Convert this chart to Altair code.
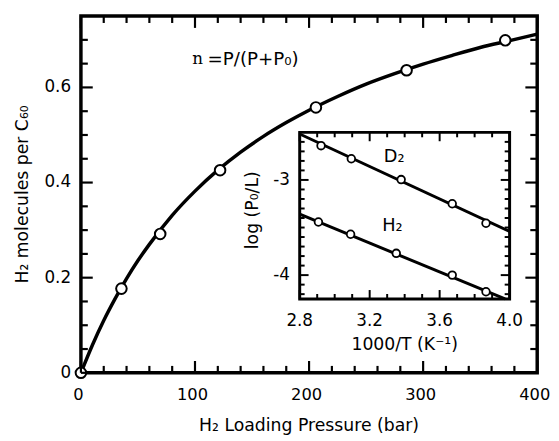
import altair as alt
import pandas as pd

# ---------------- data ----------------
# main plot: H2 uptake vs loading pressure
pressure = [0, 35.5, 69.5, 122, 206, 285.5, 372]
uptake = [0, 0.177, 0.292, 0.426, 0.558, 0.636, 0.699]

# fitted curve n = P/(P+P0)
fit_p = [0, 10, 20, 30, 40, 50, 60, 80, 100, 120, 140, 160, 180, 200,
         225, 250, 275, 300, 325, 350, 375, 400]
fit_n = [0, 0.058, 0.110, 0.156, 0.198, 0.236, 0.270, 0.331, 0.382, 0.426,
         0.464, 0.497, 0.526, 0.552, 0.581, 0.607, 0.629, 0.649, 0.667,
         0.684, 0.698, 0.712]

# inset: log(P0/L) vs 1000/T
d2_x = [2.922, 3.095, 3.380, 3.672, 3.865]
d2_y = [-2.640, -2.777, -2.996, -3.250, -3.455]
h2_x = [2.907, 3.091, 3.352, 3.672, 3.865]
h2_y = [-3.442, -3.571, -3.771, -4.000, -4.175]
d2_fit_x = [2.8, 4.0]
d2_fit_y = [-2.517, -3.540]
h2_fit_x = [2.8, 3.974]
h2_fit_y = [-3.360, -4.250]

# ticks and tick labels
main_x_major = [0, 100, 200, 300, 400]
main_x_labels = ["0", "100", "200", "300", "400"]
main_x_minor = [20, 40, 60, 80, 120, 140, 160, 180, 220, 240, 260, 280,
                320, 340, 360, 380]
main_y_major = [0, 0.2, 0.4, 0.6]
main_y_labels = ["0", "0.2", "0.4", "0.6"]
main_y_minor = [0.05, 0.1, 0.15, 0.25, 0.3, 0.35, 0.45, 0.5, 0.55, 0.65, 0.7]
ins_x_major = [2.8, 3.2, 3.6, 4.0]
ins_x_labels = ["2.8", "3.2", "3.6", "4.0"]
ins_x_minor = [2.9, 3.0, 3.1, 3.3, 3.4, 3.5, 3.7, 3.8, 3.9]
ins_y_major = [-4, -3]
ins_y_labels = ["-4", "-3"]
ins_y_minor = [-4.2, -4.1, -3.9, -3.8, -3.7, -3.6, -3.5, -3.4, -3.3, -3.2,
               -3.1, -2.9, -2.8, -2.7, -2.6]

# titles
main_x_title = "H\u2082 Loading Pressure (bar)"
main_y_title = "H\u2082 molecules per C\u2086\u2080"
ins_x_title = "1000/T (K\u207b\u00b9)"
ins_y_title = "log (P\u2080/L)"

# annotations
formula_n = "n"
formula_rest = "=P/(P+P\u2080)"
formula_x = [97.6, 111.0]
formula_y = 0.659
inset_labels = ["D\u2082", "H\u2082"]
inset_label_x = [3.34, 3.33]
inset_label_y = [-2.76, -3.48]

# ---------------- layout ----------------
W, H = 463, 362
IX0, IX1, IY0, IY1 = 222, 435, 118, 287   # inset box in plot pixels
FONT = "DejaVu Sans"
LFS, TFS = 17, 17.5
MAJ, MIN = 12, 7
IMAJ, IMIN = 9, 5

xs = alt.Scale(domain=[0, 400], nice=False, zero=False)
ys = alt.Scale(domain=[0, 0.75], nice=False, zero=False)
ixs = alt.Scale(domain=[2.8, 4.0], range=[IX0, IX1], nice=False, zero=False)
iys = alt.Scale(domain=[-4.25, -2.5], range=[IY1, IY0], nice=False, zero=False)


def vticks(vals, scale, y0, y1, width=2.2):
    return alt.Chart(pd.DataFrame({"v": vals})).mark_rule(
        color="black", strokeWidth=width).encode(
        x=alt.X("v:Q", scale=scale, axis=None),
        y=alt.value(y0), y2=alt.value(y1))


def hticks(vals, scale, x0, x1, width=2.2):
    return alt.Chart(pd.DataFrame({"v": vals})).mark_rule(
        color="black", strokeWidth=width).encode(
        y=alt.Y("v:Q", scale=scale, axis=None),
        x=alt.value(x0), x2=alt.value(x1))


def xlabels(vals, labels, scale, ypix, size=LFS, dx=0):
    return alt.Chart(pd.DataFrame({"v": vals, "t": labels})).mark_text(
        font=FONT, fontSize=size, align="center", baseline="alphabetic",
        color="black", dx=dx).encode(
        x=alt.X("v:Q", scale=scale, axis=None), y=alt.value(ypix), text="t:N")


def ylabels(vals, labels, scale, xpix):
    return alt.Chart(pd.DataFrame({"v": vals, "t": labels})).mark_text(
        font=FONT, fontSize=LFS, align="right", baseline="middle",
        color="black").encode(
        y=alt.Y("v:Q", scale=scale, axis=None), x=alt.value(xpix), text="t:N")


def title(text, xpix, ypix, angle=0, baseline="alphabetic"):
    return alt.Chart(pd.DataFrame({"t": [text]})).mark_text(
        font=FONT, fontSize=TFS, align="center", baseline=baseline,
        angle=angle, color="black").encode(
        x=alt.value(xpix), y=alt.value(ypix), text="t:N")


main_pts = pd.DataFrame({"P": pressure, "n": uptake})
main_fit = pd.DataFrame({"P": fit_p, "n": fit_n})

curve = alt.Chart(main_fit).mark_line(
    color="black", strokeWidth=3.5, interpolate="monotone").encode(
    x=alt.X("P:Q", scale=xs, axis=None), y=alt.Y("n:Q", scale=ys, axis=None))
points = alt.Chart(main_pts).mark_point(
    shape="circle", filled=True, fill="white", stroke="black",
    strokeWidth=2, size=115, opacity=1).encode(
    x=alt.X("P:Q", scale=xs, axis=None), y=alt.Y("n:Q", scale=ys, axis=None))

ann = pd.DataFrame({"x1": [formula_x[0]], "x2": [formula_x[1]],
                    "y": [formula_y], "a": [formula_n], "b": [formula_rest]})
ann_n = alt.Chart(ann).mark_text(
    font="DejaVu Serif", fontSize=17, align="left", baseline="middle",
    color="black").encode(
    x=alt.X("x1:Q", scale=xs, axis=None), y=alt.Y("y:Q", scale=ys, axis=None),
    text="a:N")
ann_rest = alt.Chart(ann).mark_text(
    font=FONT, fontSize=18.5, align="left", baseline="middle",
    color="black").encode(
    x=alt.X("x2:Q", scale=xs, axis=None), y=alt.Y("y:Q", scale=ys, axis=None),
    text="b:N")

main = alt.layer(
    curve, points,
    vticks(main_x_major, xs, H, H - MAJ), vticks(main_x_minor, xs, H, H - MIN),
    vticks(main_x_major, xs, 0, MAJ), vticks(main_x_minor, xs, 0, MIN),
    hticks(main_y_major, ys, 0, MAJ), hticks(main_y_minor, ys, 0, MIN),
    hticks(main_y_major, ys, W, W - MAJ), hticks(main_y_minor, ys, W, W - MIN),
    xlabels(main_x_major, main_x_labels, xs, H + 28, size=16.5, dx=-2.5),
    ylabels(main_y_major, main_y_labels, ys, -10),
    title(main_x_title, W / 2, H + 59),
    title(main_y_title, -59, H / 2, angle=270, baseline="middle"),
    ann_n, ann_rest,
)

# ---------------- inset ----------------
frame = alt.Chart(pd.DataFrame({"x0": [2.8], "x1": [4.0], "y0": [-4.25], "y1": [-2.5]})).mark_rect(
    fill="white", stroke="black", strokeWidth=3).encode(
    x=alt.X("x0:Q", scale=ixs, axis=None), x2="x1:Q",
    y=alt.Y("y0:Q", scale=iys, axis=None), y2="y1:Q")

fits = pd.DataFrame({
    "x": d2_fit_x + h2_fit_x,
    "y": d2_fit_y + h2_fit_y,
    "g": ["D2"] * len(d2_fit_x) + ["H2"] * len(h2_fit_x),
})
ipts = pd.DataFrame({
    "x": d2_x + h2_x,
    "y": d2_y + h2_y,
    "g": ["D2"] * len(d2_x) + ["H2"] * len(h2_x),
})
ilines = alt.Chart(fits).mark_line(color="black", strokeWidth=3).encode(
    x=alt.X("x:Q", scale=ixs, axis=None), y=alt.Y("y:Q", scale=iys, axis=None),
    detail="g:N")
ipoints = alt.Chart(ipts).mark_point(
    shape="circle", filled=True, fill="white", stroke="black",
    strokeWidth=1.8, size=60, opacity=1).encode(
    x=alt.X("x:Q", scale=ixs, axis=None), y=alt.Y("y:Q", scale=iys, axis=None))
ilabels = alt.Chart(pd.DataFrame({"t": inset_labels, "x": inset_label_x, "y": inset_label_y})).mark_text(
    font=FONT, fontSize=18, align="center", baseline="middle", color="black").encode(
    x=alt.X("x:Q", scale=ixs, axis=None), y=alt.Y("y:Q", scale=iys, axis=None),
    text="t:N")

inset = alt.layer(
    frame, ilines, ipoints, ilabels,
    vticks(ins_x_major, ixs, IY1, IY1 - IMAJ, 2), vticks(ins_x_minor, ixs, IY1, IY1 - IMIN, 2),
    vticks(ins_x_major, ixs, IY0, IY0 + IMAJ, 2), vticks(ins_x_minor, ixs, IY0, IY0 + IMIN, 2),
    hticks(ins_y_major, iys, IX0, IX0 + IMAJ, 2), hticks(ins_y_minor, iys, IX0, IX0 + IMIN, 2),
    hticks(ins_y_major, iys, IX1, IX1 - IMAJ, 2), hticks(ins_y_minor, iys, IX1, IX1 - IMIN, 2),
    xlabels(ins_x_major, ins_x_labels, ixs, IY1 + 28),
    ylabels(ins_y_major, ins_y_labels, iys, IX0 - 10),
    title(ins_x_title, (IX0 + IX1) / 2, IY1 + 52),
    title(ins_y_title, IX0 - 47, 197, angle=270, baseline="middle"),
)

chart = alt.layer(main, inset).resolve_scale(
    x="independent", y="independent").properties(
    width=W, height=H, autosize="none",
    padding={"left": 74, "top": 5, "right": 14, "bottom": 66},
).configure_view(stroke="black", strokeWidth=3.5)

chart.save("out.html", embed_options={"renderer": "svg", "actions": False})
